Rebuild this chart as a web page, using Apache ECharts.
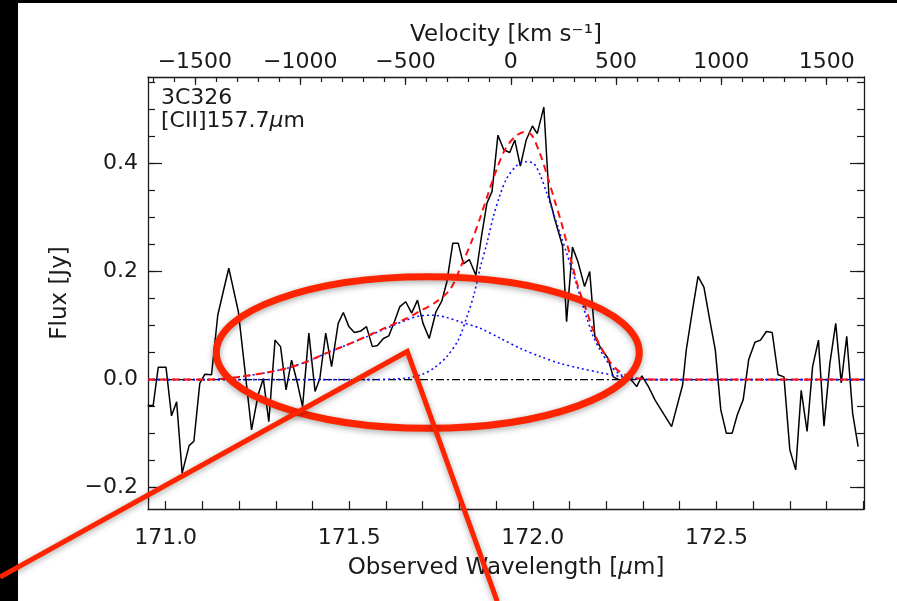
<!DOCTYPE html>
<html>
<head>
<meta charset="utf-8">
<script src="https://cdn.jsdelivr.net/npm/echarts@6/dist/echarts.min.js"></script>
<style>
  html, body { margin: 0; padding: 0; background: #fff; }
  #chart { width: 897px; height: 601px; }
</style>
</head>
<body>
<div id="chart"></div>
<script>
// 3C326 – [CII] 157.7 µm line, observed spectrum and two-Gaussian fit

// Observed spectrum: wavelength [µm] and flux density [Jy]
const wavelength = [
  170.951, 170.966, 170.980, 171.001, 171.016, 171.030, 171.045, 171.064, 171.077, 171.093,
  171.107, 171.125, 171.142, 171.157, 171.172, 171.198, 171.216, 171.234, 171.252, 171.266,
  171.281, 171.298, 171.313, 171.328, 171.343, 171.358, 171.373, 171.390, 171.407, 171.420,
  171.436, 171.452, 171.470, 171.484, 171.499, 171.514, 171.532, 171.547, 171.563, 171.577,
  171.593, 171.608, 171.623, 171.638, 171.654, 171.670, 171.686, 171.701, 171.718, 171.736,
  171.752, 171.766, 171.782, 171.797, 171.811, 171.827, 171.845, 171.860, 171.875, 171.889,
  171.905, 171.921, 171.937, 171.951, 171.966, 171.982, 171.999, 172.012, 172.030, 172.044,
  172.060, 172.081, 172.092, 172.108, 172.123, 172.141, 172.155, 172.169, 172.183, 172.205,
  172.219, 172.237, 172.252, 172.265, 172.283, 172.297, 172.315, 172.333, 172.378, 172.408,
  172.418, 172.435, 172.450, 172.466, 172.482, 172.497, 172.512, 172.527, 172.543, 172.557,
  172.573, 172.588, 172.605, 172.620, 172.636, 172.652, 172.668, 172.684, 172.700, 172.716,
  172.731, 172.747, 172.762, 172.778, 172.793, 172.809, 172.825, 172.840, 172.855, 172.871,
  172.886
];
const flux = [
  -0.048, -0.048, 0.023, 0.023, -0.067, -0.041, -0.173, -0.122, -0.114, -0.007,
  0.010, 0.009, 0.119, 0.163, 0.206, 0.126, 0.017, -0.093, -0.028, 0.002,
  -0.078, 0.073, 0.061, -0.019, 0.036, -0.004, -0.050, 0.086, -0.022, 0.002,
  0.086, 0.024, 0.104, 0.124, 0.098, 0.087, 0.090, 0.098, 0.061, 0.063,
  0.076, 0.081, 0.107, 0.135, 0.144, 0.123, 0.147, 0.104, 0.076, 0.125,
  0.145, 0.181, 0.252, 0.252, 0.214, 0.222, 0.193, 0.264, 0.326, 0.348,
  0.452, 0.425, 0.420, 0.443, 0.395, 0.443, 0.469, 0.455, 0.504, 0.339,
  0.296, 0.247, 0.107, 0.245, 0.218, 0.172, 0.200, 0.080, 0.061, 0.039,
  0.005, -0.001, 0.001, 0.002, -0.013, 0.007, -0.013, -0.038, -0.087, -0.010,
  0.055, 0.129, 0.191, 0.171, 0.110, 0.055, -0.056, -0.099, -0.099, -0.065,
  -0.037, 0.037, 0.069, 0.073, 0.089, 0.087, 0.009, 0.005, -0.130, -0.167,
  -0.020, -0.096, 0.024, 0.073, -0.086, 0.030, 0.104, -0.006, 0.080, -0.062,
  -0.124
];

// Broad Gaussian component
const broadWave = [
  170.952, 171.100, 171.166, 171.221, 171.275, 171.330, 171.384, 171.438, 171.493, 171.547,
  171.602, 171.656, 171.693, 171.729, 171.765, 171.801, 171.856, 171.910, 171.965, 172.019,
  172.074, 172.128, 172.183, 172.237, 172.290, 172.350, 172.902
];
const broadFlux = [
  0.000, 0.000, 0.002, 0.007, 0.013, 0.021, 0.033, 0.049, 0.064, 0.079,
  0.095, 0.110, 0.118, 0.119, 0.115, 0.107, 0.095, 0.077, 0.058, 0.043,
  0.030, 0.021, 0.013, 0.006, 0.001, 0.000, 0.000
];

// Narrow Gaussian component
const narrowWave = [
  170.952, 171.550, 171.620, 171.660, 171.700, 171.730, 171.765, 171.797, 171.820, 171.840,
  171.856, 171.875, 171.892, 171.910, 171.929, 171.955, 171.979, 172.002, 172.019, 172.038,
  172.056, 172.074, 172.092, 172.110, 172.128, 172.146, 172.164, 172.183, 172.210, 172.237,
  172.273, 172.330, 172.902
];
const narrowFlux = [
  0.000, 0.000, 0.001, 0.003, 0.010, 0.021, 0.042, 0.073, 0.115, 0.158,
  0.205, 0.252, 0.300, 0.340, 0.372, 0.395, 0.403, 0.400, 0.380, 0.345,
  0.308, 0.271, 0.234, 0.197, 0.156, 0.116, 0.081, 0.055, 0.027, 0.010,
  0.002, 0.000, 0.000
];

// Total fit (broad + narrow)
const totalWave = [
  170.952, 171.100, 171.166, 171.221, 171.275, 171.330, 171.384, 171.438, 171.493, 171.547,
  171.602, 171.656, 171.693, 171.729, 171.774, 171.806, 171.833, 171.856, 171.879, 171.901,
  171.924, 171.951, 171.978, 171.997, 172.019, 172.038, 172.060, 172.078, 172.101, 172.124,
  172.146, 172.164, 172.183, 172.210, 172.237, 172.273, 172.310, 172.350, 172.902
];
const totalFlux = [
  0.000, 0.000, 0.002, 0.007, 0.013, 0.021, 0.033, 0.049, 0.064, 0.080,
  0.097, 0.113, 0.127, 0.140, 0.166, 0.212, 0.255, 0.298, 0.345, 0.388,
  0.425, 0.449, 0.458, 0.452, 0.419, 0.380, 0.330, 0.290, 0.230, 0.170,
  0.128, 0.092, 0.063, 0.033, 0.014, 0.004, 0.001, 0.000, 0.000
];

// Continuum level
const baselineWave = [170.952, 172.902];
const baselineFlux = [0, 0];

// Axis ranges and ticks
const waveRange = [170.952, 172.902];
const fluxRange = [-0.2393, 0.5596];
const waveTicksMajor = [171.0, 171.5, 172.0, 172.5];
const waveTicksMinor = [171.0, 171.1, 171.2, 171.3, 171.4, 171.5, 171.6, 171.7, 171.8, 171.9,
  172.0, 172.1, 172.2, 172.3, 172.4, 172.5, 172.6, 172.7, 172.8, 172.9];
const fluxTicksMajor = [-0.2, 0.0, 0.2, 0.4];
const fluxTicksMinor = [-0.2, -0.15, -0.1, -0.05, 0.0, 0.05, 0.1, 0.15, 0.2, 0.25, 0.3, 0.35,
  0.4, 0.45, 0.5, 0.55];
const velTicksMajor = [-1500, -1000, -500, 0, 500, 1000, 1500];
const velTicksMinor = [-1700, -1600, -1500, -1400, -1300, -1200, -1100, -1000, -900, -800,
  -700, -600, -500, -400, -300, -200, -100, 0, 100, 200, 300, 400, 500, 600, 700, 800, 900,
  1000, 1100, 1200, 1300, 1400, 1500, 1600];

// Systemic wavelength defining zero velocity, speed of light in km/s
const systemicWave = 171.94;
const lightSpeed = 299792.458;
const toVelocity = w => (w / systemicWave - 1) * lightSpeed;
const velRange = [toVelocity(waveRange[0]), toVelocity(waveRange[1])];

// Highlighted region (data coordinates) and callout lines
const highlightCenter = [171.714, 0.050];
const highlightRadius = [0.576, 0.140];
const calloutPath = [[170.549, -0.365], [171.658, 0.052], [171.903, -0.410]];

const FONT = 'DejaVu Sans';
const INK = '#1a1a1a';
const MARK = '#ff2400';
const minus = s => String(s).replace('-', '\u2212');
const zip = (a, b) => a.map((v, i) => [v, b[i]]);

const axisLine = { show: true, onZero: false, lineStyle: { color: INK, width: 1.3 } };
const noSplit = { show: false };
const labelStyle = { color: INK, fontFamily: FONT, fontSize: 22 };

const chart = echarts.init(document.getElementById('chart'), null, { renderer: 'canvas' });

chart.setOption({
  backgroundColor: '#ffffff',
  animation: false,
  grid: { left: 148, right: 33, top: 77, bottom: 92, containLabel: false },
  xAxis: [
    {
      type: 'value', position: 'bottom', min: waveRange[0], max: waveRange[1],
      axisLine,
      splitLine: noSplit,
      axisTick: { inside: true, length: 8, customValues: waveTicksMinor, lineStyle: { color: INK, width: 1.2 } },
      axisLabel: { ...labelStyle, margin: 18, customValues: waveTicksMajor, formatter: v => v.toFixed(1) },
      name: 'Observed Wavelength [{mu|μ}m]',
      nameLocation: 'middle', nameGap: 48,
      nameTextStyle: { color: INK, fontFamily: FONT, fontSize: 23, rich: { mu: { fontFamily: FONT, fontSize: 23, fontStyle: 'italic', color: INK } } }
    },
    {
      type: 'value', position: 'top', min: velRange[0], max: velRange[1],
      axisLine,
      splitLine: noSplit,
      axisTick: { inside: true, length: 8, customValues: velTicksMajor, lineStyle: { color: INK, width: 1.2 } },
      axisLabel: { ...labelStyle, margin: 4, customValues: velTicksMajor, formatter: v => minus(v) },
      name: 'Velocity [km s\u207B\u00B9]',
      nameLocation: 'middle', nameGap: 28,
      nameTextStyle: { color: INK, fontFamily: FONT, fontSize: 23 }
    },
    {
      type: 'value', position: 'top', min: velRange[0], max: velRange[1],
      axisLine: { show: false, onZero: false },
      splitLine: noSplit,
      axisTick: { inside: true, length: 5, customValues: velTicksMinor, lineStyle: { color: INK, width: 1.2 } },
      axisLabel: { show: false }
    }
  ],
  yAxis: [
    {
      type: 'value', position: 'left', min: fluxRange[0], max: fluxRange[1],
      axisLine,
      splitLine: noSplit,
      axisTick: { inside: true, length: 14, customValues: fluxTicksMajor, lineStyle: { color: INK, width: 1.2 } },
      axisLabel: { ...labelStyle, margin: 10, customValues: fluxTicksMajor, formatter: v => minus(v.toFixed(1)) },
      name: 'Flux [Jy]', nameLocation: 'middle', nameGap: 76,
      nameTextStyle: { color: INK, fontFamily: FONT, fontSize: 23 }
    },
    {
      type: 'value', position: 'left', min: fluxRange[0], max: fluxRange[1],
      axisLine: { show: false, onZero: false },
      splitLine: noSplit,
      axisTick: { inside: true, length: 7, customValues: fluxTicksMinor, lineStyle: { color: INK, width: 1.2 } },
      axisLabel: { show: false }
    },
    {
      type: 'value', position: 'right', min: fluxRange[0], max: fluxRange[1],
      axisLine,
      splitLine: noSplit,
      axisTick: { inside: true, length: 14, customValues: fluxTicksMajor, lineStyle: { color: INK, width: 1.2 } },
      axisLabel: { show: false }
    },
    {
      type: 'value', position: 'right', min: fluxRange[0], max: fluxRange[1],
      axisLine: { show: false, onZero: false },
      splitLine: noSplit,
      axisTick: { inside: true, length: 7, customValues: fluxTicksMinor, lineStyle: { color: INK, width: 1.2 } },
      axisLabel: { show: false }
    }
  ],
  series: [
    {
      name: 'spectrum', type: 'line', xAxisIndex: 0, yAxisIndex: 0,
      data: zip(wavelength, flux), showSymbol: false, symbol: 'none',
      lineStyle: { color: '#000', width: 1.5 }, z: 2
    },
    {
      name: 'continuum', type: 'line', xAxisIndex: 0, yAxisIndex: 0,
      data: zip(baselineWave, baselineFlux), showSymbol: false, symbol: 'none',
      lineStyle: { color: '#000', width: 1.2, type: [8, 3, 2, 3] }, z: 3
    },
    {
      name: 'broad', type: 'line', xAxisIndex: 0, yAxisIndex: 0,
      data: zip(broadWave, broadFlux), showSymbol: false, symbol: 'none', smooth: 0.3,
      lineStyle: { color: '#1010ff', width: 1.6, type: [2, 3] }, z: 4
    },
    {
      name: 'narrow', type: 'line', xAxisIndex: 0, yAxisIndex: 0,
      data: zip(narrowWave, narrowFlux), showSymbol: false, symbol: 'none', smooth: 0.3,
      lineStyle: { color: '#1010ff', width: 1.6, type: [2, 3] }, z: 4
    },
    {
      name: 'total', type: 'line', xAxisIndex: 0, yAxisIndex: 0,
      data: zip(totalWave, totalFlux), showSymbol: false, symbol: 'none', smooth: 0.3,
      lineStyle: { color: '#ff1010', width: 2, type: [7, 5] }, z: 5
    }
  ],
  graphic: [
    { id: 'frameLeft', type: 'rect', z: 50, silent: true, shape: { x: 0, y: 0, width: 18, height: 601 }, style: { fill: '#000' } },
    { id: 'frameTop', type: 'rect', z: 50, silent: true, shape: { x: 0, y: 0, width: 897, height: 3 }, style: { fill: '#000' } },
    {
      id: 'source', type: 'text', x: 161, y: 87, z: 20,
      style: { text: '3C326', fill: INK, font: '22px "DejaVu Sans"' }
    },
    {
      id: 'line', type: 'text', x: 161, y: 110, z: 20,
      style: {
        text: '[CII]157.7{mu|μ}m', fill: INK, font: '22px "DejaVu Sans"',
        rich: { mu: { fontFamily: FONT, fontSize: 22, fontStyle: 'italic', fill: INK } }
      }
    }
  ]
});

// Highlight ellipse and callout, placed from data coordinates
const finder = { xAxisIndex: 0, yAxisIndex: 0 };
const c = chart.convertToPixel(finder, highlightCenter);
const e = chart.convertToPixel(finder, [highlightCenter[0] + highlightRadius[0], highlightCenter[1] + highlightRadius[1]]);
const callout = calloutPath.map(p => chart.convertToPixel(finder, p));
const shadow = { shadowBlur: 6, shadowColor: 'rgba(0,0,0,0.35)', shadowOffsetY: 2 };

chart.setOption({
  graphic: [
    {
      id: 'highlight', type: 'ellipse', z: 60, silent: true,
      shape: { cx: c[0], cy: c[1], rx: Math.abs(e[0] - c[0]), ry: Math.abs(e[1] - c[1]) },
      style: { fill: 'none', stroke: MARK, lineWidth: 7, ...shadow }
    },
    {
      id: 'callout', type: 'polyline', z: 61, silent: true,
      shape: { points: callout },
      style: { fill: 'none', stroke: MARK, lineWidth: 5, lineJoin: 'miter', ...shadow }
    }
  ]
});
</script>
</body>
</html>
